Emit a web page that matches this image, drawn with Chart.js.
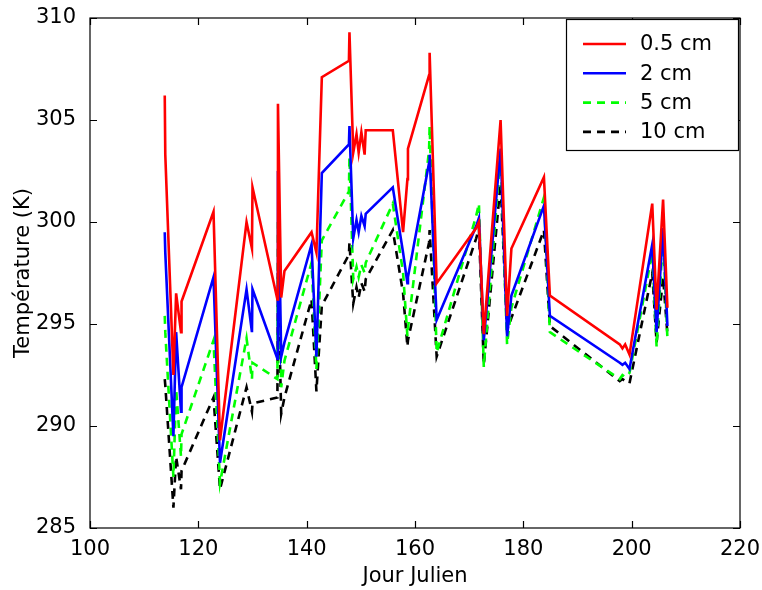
<!DOCTYPE html>
<html>
<head>
<meta charset="utf-8">
<script src="https://cdn.jsdelivr.net/npm/chart.js@4"></script>
<style>
  html, body { margin: 0; padding: 0; background: #fff; }
  #wrap { width: 762px; height: 590px; }
</style>
</head>
<body>
<div id="wrap"><canvas id="chart" width="762" height="590"></canvas></div>
<script>
// Jour julien (temps des mesures) et températures par profondeur
const days = [113.8, 113.9, 115.4, 115.9, 116.8, 116.9, 122.8, 124.0, 128.9, 129.9, 130.0,
  134.6, 134.7, 135.3, 135.9, 140.9, 141.8, 142.8, 147.8, 147.9, 148.6, 149.2, 149.6,
  150.1, 150.7, 150.9, 155.9, 157.8, 158.6, 158.7, 162.6, 162.7, 164.0, 171.3, 171.8,
  172.7, 175.8, 177.0, 177.8, 183.8, 184.9, 197.8, 198.3, 198.8, 199.6, 203.8, 204.6,
  205.8, 206.6];
const t05cm = [306.2, 303.3, 292.5, 296.5, 294.6, 296.1, 300.5, 289.3, 300.0, 298.7, 301.7,
  296.2, 305.8, 296.3, 297.6, 299.5, 298.5, 307.1, 307.9, 309.3, 303.4, 304.3, 303.4,
  304.4, 303.3, 304.5, 304.5, 299.5, 302.1, 303.6, 307.2, 308.3, 297.0, 299.7, 300.0,
  294.5, 305.0, 295.4, 298.7, 302.2, 296.4, 294.0, 293.8, 294.0, 293.5, 300.9, 295.7,
  301.1, 295.8];
const t2cm = [299.5, 298.5, 289.5, 294.6, 290.7, 291.9, 297.3, 288.2, 296.7, 294.6, 296.7,
  293.3, 302.5, 293.4, 294.1, 298.9, 293.4, 302.4, 303.8, 304.7, 299.2, 300.1, 299.5,
  300.3, 299.8, 300.4, 301.7, 298.5, 297.0, 297.3, 302.9, 303.3, 295.2, 299.8, 300.2,
  294.2, 303.6, 294.4, 296.4, 300.8, 295.4, 293.1, 293.0, 293.1, 292.8, 298.9, 294.6,
  299.7, 294.9];
const t5cm = [295.4, 294.6, 287.5, 291.8, 288.5, 289.6, 294.2, 287.2, 294.3, 292.3, 293.1,
  292.3, 300.0, 291.9, 293.2, 298.0, 292.8, 299.1, 301.5, 303.2, 297.2, 297.8, 297.3,
  297.9, 297.5, 298.0, 300.9, 297.5, 294.4, 294.8, 303.5, 304.7, 293.6, 300.3, 300.9,
  292.9, 303.4, 294.0, 295.8, 301.2, 294.6, 292.3, 292.5, 292.4, 292.6, 298.5, 293.9,
  299.3, 294.3];
const t10cm = [292.3, 292.0, 286.0, 288.5, 286.9, 287.8, 291.4, 286.9, 291.9, 290.7, 291.1,
  291.4, 297.5, 290.6, 291.4, 296.2, 291.7, 295.9, 298.4, 299.0, 296.0, 296.8, 296.3,
  297.0, 296.6, 297.2, 299.6, 296.5, 293.9, 294.2, 299.0, 299.6, 293.4, 299.2, 299.7,
  293.0, 301.9, 294.7, 295.3, 299.6, 294.9, 292.2, 292.3, 292.2, 292.1, 297.5, 294.1,
  297.3, 294.5];

const seriesNames = ['0.5 cm', '2 cm', '5 cm', '10 cm'];
const seriesColors = ['#ff0000', '#0000ff', '#00ff00', '#000000'];
const xTicks = [100, 120, 140, 160, 180, 200, 220];
const yTicks = [285, 290, 295, 300, 305, 310];

const FONT = '"DejaVu Sans", Verdana, sans-serif';

function toPoints(vals) {
  return days.map((d, i) => ({ x: d, y: vals[i] }));
}

const allSeries = [t05cm, t2cm, t5cm, t10cm];
const datasets = allSeries.map((vals, i) => ({
  label: seriesNames[i],
  data: toPoints(vals),
  borderColor: seriesColors[i],
  borderWidth: 2.6,
  borderDash: i >= 2 ? [8, 6] : [],
  pointRadius: 0,
  tension: 0,
  fill: false
}));

// cadre, graduations vers l'intérieur et légende façon Matlab
const matlabFrame = {
  id: 'matlabFrame',
  afterDraw(chart) {
    const { ctx, chartArea: a, scales } = chart;
    ctx.save();
    ctx.strokeStyle = '#000';
    ctx.lineWidth = 1.2;
    ctx.strokeRect(a.left, a.top, a.right - a.left, a.bottom - a.top);

    const len = 7;
    ctx.beginPath();
    xTicks.forEach(v => {
      const px = Math.round(scales.x.getPixelForValue(v)) + 0.5;
      ctx.moveTo(px, a.bottom); ctx.lineTo(px, a.bottom - len);
      ctx.moveTo(px, a.top); ctx.lineTo(px, a.top + len);
    });
    yTicks.forEach(v => {
      const py = Math.round(scales.y.getPixelForValue(v)) + 0.5;
      ctx.moveTo(a.left, py); ctx.lineTo(a.left + len, py);
      ctx.moveTo(a.right, py); ctx.lineTo(a.right - len, py);
    });
    ctx.stroke();

    // légende
    const bx = 566, by = 19, bw = 172, bh = 131;
    ctx.fillStyle = '#fff';
    ctx.fillRect(bx, by, bw, bh);
    ctx.strokeRect(bx + 0.5, by + 0.5, bw, bh);
    ctx.font = '21px ' + FONT;
    ctx.textBaseline = 'middle';
    ctx.textAlign = 'left';
    chart.data.datasets.forEach((ds, i) => {
      const y = by + 25 + i * 29.3;
      ctx.beginPath();
      ctx.strokeStyle = ds.borderColor;
      ctx.lineWidth = ds.borderWidth;
      ctx.setLineDash(ds.borderDash);
      ctx.moveTo(bx + 17, y); ctx.lineTo(bx + 60, y);
      ctx.stroke();
      ctx.setLineDash([]);
      ctx.fillStyle = '#000';
      ctx.fillText(ds.label, bx + 74, y + 1);
    });
    ctx.restore();
  }
};

new Chart(document.getElementById('chart').getContext('2d'), {
  type: 'line',
  data: { datasets: datasets },
  options: {
    responsive: false,
    animation: false,
    layout: { padding: { left: 0, right: 22, top: 18, bottom: 0 } },
    plugins: { legend: { display: false }, tooltip: { enabled: false } },
    scales: {
      x: {
        type: 'linear',
        min: 100, max: 220,
        afterBuildTicks: s => { s.ticks = xTicks.map(v => ({ value: v })); },
        afterFit: s => { s.height = 62; s.paddingLeft = 0; s.paddingRight = 0; },
        grid: { display: false, drawTicks: false },
        border: { display: false },
        ticks: { color: '#000', font: { size: 21, family: FONT }, padding: 9, maxRotation: 0 },
        title: { display: true, text: 'Jour Julien', color: '#000', font: { size: 21, family: FONT }, padding: { top: 0, bottom: 1 } }
      },
      y: {
        min: 285, max: 310,
        afterBuildTicks: s => { s.ticks = yTicks.map(v => ({ value: v })); },
        afterFit: s => { s.width = 90; s.paddingTop = 0; s.paddingBottom = 0; },
        grid: { display: false, drawTicks: false },
        border: { display: false },
        ticks: { color: '#000', font: { size: 21, family: FONT }, padding: 14 },
        title: { display: true, text: 'Température (K)', color: '#000', font: { size: 21, family: FONT }, padding: { top: 11, bottom: 0 } }
      }
    }
  },
  plugins: [matlabFrame]
});
</script>
</body>
</html>
